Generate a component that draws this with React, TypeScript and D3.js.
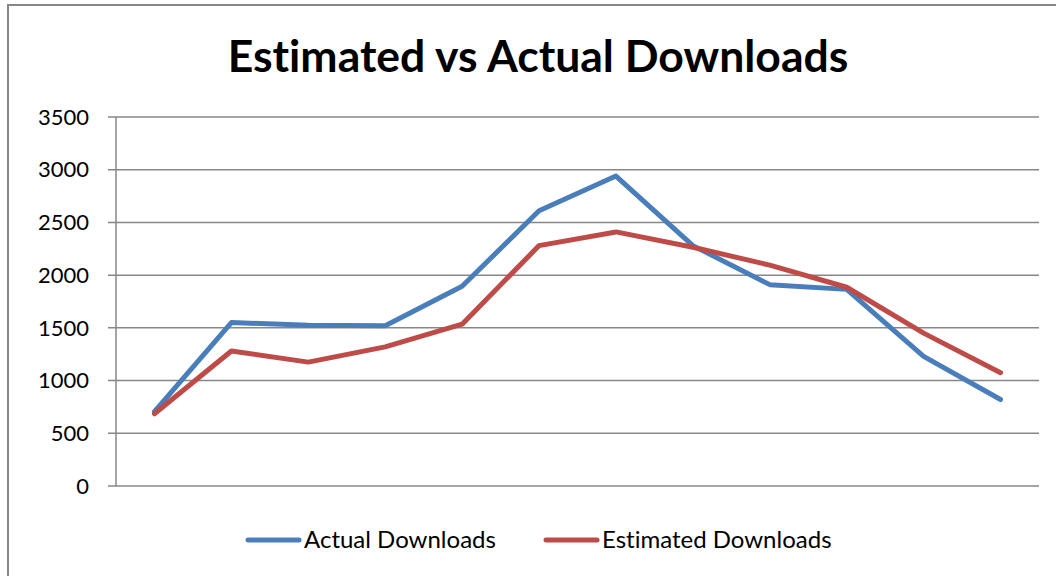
import React from "react";
import * as d3 from "d3";

// Twelve periods, no category labels shown on the axis
const periods = ["1", "2", "3", "4", "5", "6", "7", "8", "9", "10", "11", "12"];
const actualDownloads = [705, 1550, 1525, 1520, 1895, 2610, 2940, 2280, 1910, 1865, 1230, 820];
const estimatedDownloads = [685, 1280, 1175, 1320, 1535, 2280, 2410, 2265, 2095, 1885, 1450, 1075];
const yTicks = [0, 500, 1000, 1500, 2000, 2500, 3000, 3500];

const series = [
  { name: "Actual Downloads", values: actualDownloads, color: "#4A7EBB" },
  { name: "Estimated Downloads", values: estimatedDownloads, color: "#BE4B48" },
];

const W = 1056;
const H = 576;
const plot = { left: 116, right: 1039, top: 117, bottom: 486 };
const FONT = "Lato, 'Open Sans', sans-serif";
const noLigatures = { fontVariantLigatures: "none" as const };

export default function App() {
  const x = d3
    .scalePoint<string>()
    .domain(periods)
    .range([plot.left, plot.right])
    .padding(0.5);
  const y = d3.scaleLinear().domain([0, 3500]).range([plot.bottom, plot.top]);

  const line = d3
    .line<number>()
    .x((_, i) => x(periods[i]) as number)
    .y((d) => y(d));

  const legendItems = [
    { lineX: 248, textX: 304 },
    { lineX: 546, textX: 602 },
  ];

  return (
    <svg
      width={W}
      height={H}
      style={{ position: "absolute", left: 0, top: 0, background: "#fff" }}
    >
      {/* chart border */}
      <rect x={8} y={5} width={W + 20} height={H + 20} fill="#fff" stroke="#878787" strokeWidth={2} />

      <text
        x={538}
        y={72}
        textAnchor="middle"
        fontFamily={FONT}
        fontWeight="bold"
        fontSize={44.5}
        fill="#000"
        style={noLigatures}
      >
        Estimated vs Actual Downloads
      </text>

      {/* gridlines and y tick marks */}
      {yTicks.map((t) => (
        <line
          key={t}
          x1={plot.left - 8}
          x2={plot.right}
          y1={y(t)}
          y2={y(t)}
          stroke="#878787"
          strokeWidth={1.5}
        />
      ))}
      <line x1={plot.left} x2={plot.left} y1={plot.top} y2={plot.bottom} stroke="#878787" strokeWidth={1.5} />

      {yTicks.map((t) => (
        <text
          key={"l" + t}
          x={89}
          y={y(t)}
          dy="0.35em"
          textAnchor="end"
          fontFamily={FONT}
          fontSize={22}
          fill="#000"
        >
          {t}
        </text>
      ))}

      {series.map((s) => (
        <path
          key={s.name}
          d={line(s.values) || ""}
          fill="none"
          stroke={s.color}
          strokeWidth={5}
          strokeLinejoin="round"
          strokeLinecap="round"
        />
      ))}

      {series.map((s, i) => (
        <g key={"lg" + s.name}>
          <line
            x1={legendItems[i].lineX}
            x2={legendItems[i].lineX + 51}
            y1={540}
            y2={540}
            stroke={s.color}
            strokeWidth={5}
            strokeLinecap="round"
          />
          <text
            x={legendItems[i].textX}
            y={540}
            dy="0.35em"
            fontFamily={FONT}
            fontSize={24}
            fill="#000"
            style={noLigatures}
          >
            {s.name}
          </text>
        </g>
      ))}
    </svg>
  );
}
